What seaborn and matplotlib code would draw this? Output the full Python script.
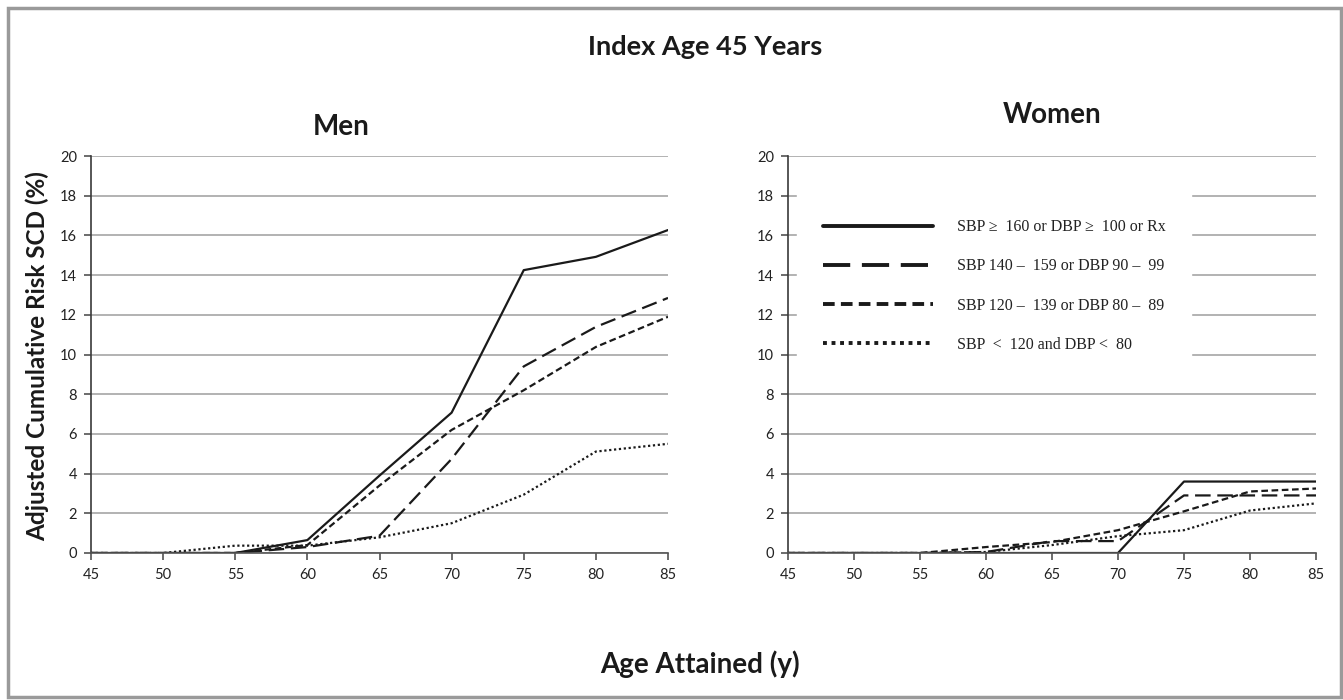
import matplotlib
matplotlib.use("Agg")
import matplotlib.pyplot as plt
import seaborn as sns
import pandas as pd
from matplotlib.patches import Rectangle

# ---- data ----
ages = [45, 50, 55, 60, 65, 70, 75, 80, 85]
series_labels = [
    "SBP \u2265  160 or DBP \u2265  100 or Rx",
    "SBP 140 \u2013  159 or DBP 90 \u2013  99",
    "SBP 120 \u2013  139 or DBP 80 \u2013  89",
    "SBP  <  120 and DBP <  80",
]
men_160 = [0, 0, 0, 0.65, 3.9, 7.07, 14.25, 14.92, 16.27]
men_140 = [0, 0, 0, 0.3, 0.87, 4.74, 9.4, 11.39, 12.85]
men_120 = [0, 0, 0, 0.4, 3.4, 6.2, 8.2, 10.38, 11.9]
men_lt120 = [0, 0, 0.37, 0.37, 0.79, 1.5, 2.94, 5.11, 5.5]

women_160 = [0, 0, 0, 0, 0, 0, 3.6, 3.6, 3.6]
women_140 = [0, 0, 0, 0.05, 0.6, 0.6, 2.9, 2.9, 2.9]
women_120 = [0, 0, 0, 0.3, 0.55, 1.15, 2.1, 3.1, 3.25]
women_lt120 = [0, 0, 0, 0.05, 0.4, 0.85, 1.15, 2.14, 2.5]

x_ticks = [45, 50, 55, 60, 65, 70, 75, 80, 85]
y_ticks = [0, 2, 4, 6, 8, 10, 12, 14, 16, 18, 20]

sns.set_theme(style="white")
plt.rcParams["font.family"] = ["Lato", "DejaVu Sans"]

W, H = 1343, 700
fig = plt.figure(figsize=(W / 100, H / 100), dpi=100)
fig.patch.set_facecolor("white")

def ax_rect(l, r, t, b):
    return [l / W, 1 - b / H, (r - l) / W, (b - t) / H]

ax_m = fig.add_axes(ax_rect(91, 668, 156, 553))
ax_w = fig.add_axes(ax_rect(788, 1316, 156, 553))

styles = ["-", (0, (7, 3)), (0, (3, 1.6)), (0, (1, 1.2))]

def draw(ax, data, with_label):
    for vals, ls, lab in zip(data, styles, series_labels):
        sns.lineplot(x=ages, y=vals, ax=ax, color="#1a1a1a", linewidth=1.6,
                     linestyle=ls, label=lab if with_label else None,
                     legend=False)
    ax.set_xlim(45, 85)
    ax.set_ylim(0, 20)
    ax.set_xticks(x_ticks)
    ax.set_yticks(y_ticks)
    ax.set_xticklabels([str(v) for v in x_ticks])
    ax.set_yticklabels([str(v) for v in y_ticks])
    ax.grid(axis="y", color="#a6a6a6", linewidth=1.2)
    ax.set_axisbelow(True)
    for s in ["top", "right"]:
        ax.spines[s].set_visible(False)
    ax.spines["left"].set_color("#3a3a3a")
    ax.spines["bottom"].set_color("#555555")
    ax.spines["left"].set_linewidth(1.2)
    ax.spines["bottom"].set_linewidth(1.2)
    ax.tick_params(axis="both", which="major", direction="out", length=5,
                   width=1.1, color="#444444", labelsize=10.5,
                   labelcolor="#222222", left=True, bottom=True)
    ax.tick_params(axis="y", pad=5)
    ax.tick_params(axis="x", pad=6)
    ax.set_xlabel("")
    ax.set_ylabel("")

draw(ax_m, [men_160, men_140, men_120, men_lt120], False)
draw(ax_w, [women_160, women_140, women_120, women_lt120], True)

handles = ax_w.lines[:4]
leg = ax_w.legend(handles, series_labels, loc="upper left",
                  bbox_to_anchor=(0.017, 0.905), borderaxespad=0,
                  frameon=True, fancybox=False, framealpha=1,
                  facecolor="white", edgecolor="white",
                  prop={"family": "Liberation Serif", "size": 11.5},
                  handlelength=6.9, handletextpad=1.5, labelspacing=1.45,
                  borderpad=1.6)
for h in leg.get_lines():
    h.set_linewidth(2.8)
for t in leg.get_texts():
    t.set_color("#222222")

# titles / labels
fig.text(705 / W, 1 - 47 / H, "Index Age 45 Years", ha="center", va="center",
         fontsize=19.5, fontweight="bold", color="#1a1a1a")
fig.text(341 / W, 1 - 127 / H, "Men", ha="center", va="center",
         fontsize=20, fontweight="bold", color="#1a1a1a")
fig.text(1052 / W, 1 - 115 / H, "Women", ha="center", va="center",
         fontsize=20, fontweight="bold", color="#1a1a1a")
fig.text(700 / W, 1 - 664 / H, "Age Attained (y)", ha="center", va="center",
         fontsize=20, fontweight="bold", color="#1a1a1a")
fig.text(37 / W, 1 - 356 / H, "Adjusted Cumulative Risk SCD (%)", ha="center",
         va="center", rotation=90, fontsize=17.5, fontweight="bold",
         color="#1a1a1a")

# outer frame
fig.patches.append(Rectangle((7.5 / W, 3 / H), (W - 10) / W, (H - 10.5) / H,
                             transform=fig.transFigure, fill=False,
                             edgecolor="#9a9a9a", linewidth=2.5))

fig.savefig("out.png", dpi=100)
